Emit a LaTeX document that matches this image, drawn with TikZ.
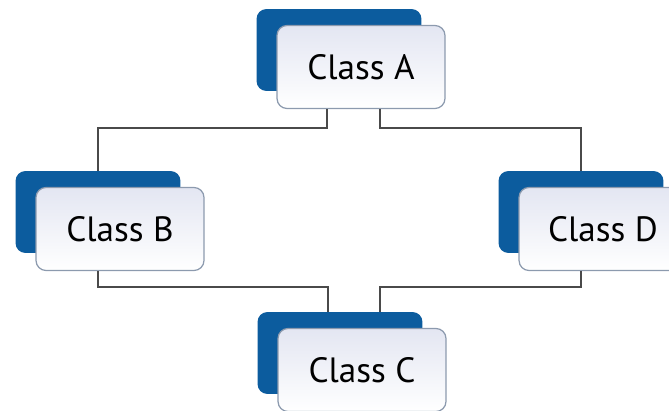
\documentclass[tikz,border=0pt]{standalone}
\usepackage{fontspec}
\setmainfont{PT Sans}
\usetikzlibrary{positioning}
\definecolor{classblue}{HTML}{0C5C9E}
\definecolor{classedge}{HTML}{8C9AAE}
\definecolor{classfill}{HTML}{E3E6F2}
\definecolor{wire}{HTML}{4A4A4A}

\begin{document}
\begin{tikzpicture}[x=0.02cm,y=-0.02cm,
    back/.style={fill=classblue,rounded corners=0.2cm,minimum width=3.3cm,minimum height=1.64cm,inner sep=0pt},
    front/.style={draw=classedge,line width=0.7pt,top color=classfill,bottom color=white,rounded corners=0.2cm,
                  minimum width=3.36cm,minimum height=1.66cm,inner sep=0pt,font=\fontsize{20}{24}\selectfont},
    wire/.style={draw=wire,line width=1.1pt}]
    \useasboundingbox (0,0) rectangle (669,411);
    % back boxes
    \node[back] (aback) at (339,50) {};
    \node[back] (bback) at (98,212) {};
    \node[back] (dback) at (581,212) {};
    \node[back] (cback) at (340,353) {};
    % front boxes
    \node[front] (a) at ([shift={(22,17)}]aback) {Class A};
    \node[front] (b) at ([shift={(22,17)}]bback) {Class B};
    \node[front] (d) at ([shift={(22,17)}]dback) {Class D};
    \node[front] (c) at ([shift={(22,17)}]cback) {Class C};
    % wire columns and rows
    \coordinate (left) at (327,128);
    \coordinate (right) at (380,128);
    \coordinate (lowleft) at (328,287);
    \coordinate (lowright) at (380,287);
    % connectors
    \draw[wire] (a.south -| left) -- (left) -| (bback.north);
    \draw[wire] (a.south -| right) -- (right) -| (dback.north);
    \draw[wire] (b.south -| bback.north) |- (lowleft) -- (cback.north -| lowleft);
    \draw[wire] (d.south -| dback.north) |- (lowright) -- (cback.north -| lowright);
\end{tikzpicture}
\end{document}
